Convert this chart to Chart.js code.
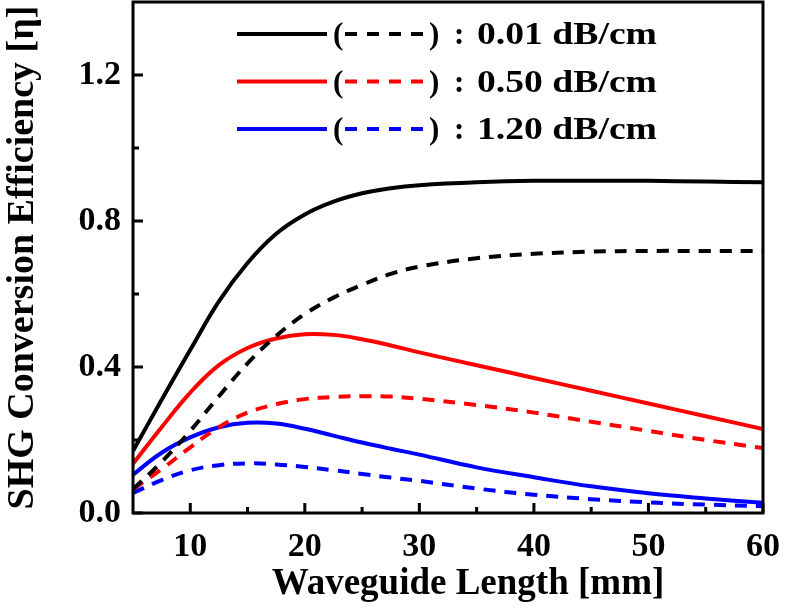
<!DOCTYPE html>
<html>
<head>
<meta charset="utf-8">
<script src="https://cdn.jsdelivr.net/npm/chart.js@4"></script>
<style>
  html, body { margin: 0; padding: 0; background: #fff; }
  #wrap { width: 785px; height: 612px; }
</style>
</head>
<body>
<div id="wrap"><canvas id="shgChart"></canvas></div>
<script>
// waveguide length [mm]
const lengths = [5, 7.5, 10, 12.5, 15, 17.5, 20, 22.5, 25, 27.5, 30, 35, 40, 45, 50, 55, 60];

// conversion efficiency, solid and dashed curve for each loss value
const black001 = [0.17, 0.31, 0.447, 0.58, 0.685, 0.765, 0.818, 0.853, 0.876, 0.89, 0.898, 0.906, 0.91, 0.91, 0.91, 0.908, 0.906];
const black001Dash = [0.065, 0.14, 0.225, 0.32, 0.41, 0.485, 0.545, 0.59, 0.625, 0.655, 0.675, 0.698, 0.71, 0.716, 0.718, 0.718, 0.718];
const red050 = [0.135, 0.235, 0.33, 0.405, 0.452, 0.478, 0.49, 0.488, 0.476, 0.459, 0.44, 0.405, 0.37, 0.335, 0.30, 0.265, 0.23];
const red050Dash = [0.065, 0.12, 0.18, 0.235, 0.275, 0.298, 0.312, 0.318, 0.32, 0.319, 0.313, 0.296, 0.275, 0.25, 0.225, 0.20, 0.178];
const blue120 = [0.105, 0.165, 0.207, 0.235, 0.247, 0.245, 0.231, 0.212, 0.193, 0.176, 0.16, 0.125, 0.098, 0.073, 0.054, 0.04, 0.028];
const blue120Dash = [0.055, 0.09, 0.117, 0.131, 0.136, 0.133, 0.126, 0.117, 0.107, 0.097, 0.088, 0.067, 0.05, 0.038, 0.029, 0.023, 0.019];

const xTicks = [10, 20, 30, 40, 50, 60];
const xMinor = [15, 25, 35, 45, 55];
const yTicks = [0, 0.4, 0.8, 1.2];
const yMinor = [0.2, 0.6, 1.0];
const legendRows = ["0.01 dB/cm", "0.50 dB/cm", "1.20 dB/cm"];
const xTitle = "Waveguide Length [mm]";

const serif = "'Liberation Serif', 'Times New Roman', serif";

function pts(ys) {
    return ys.map((y, i) => ({ x: lengths[i], y: y }));
}

function line(data, color, dashed) {
    return {
        data: pts(data),
        borderColor: color,
        borderWidth: 4,
        borderDash: dashed ? [12, 9] : [],
        pointRadius: 0,
        fill: false,
        tension: 0.4
    };
}

// inward ticks, box frame, x title and the hand-made legend
const framePlugin = {
    id: 'frame',
    afterDatasetsDraw(chart) {
        const c = chart.ctx;
        const a = chart.chartArea;
        const xs = chart.scales.x, ys = chart.scales.y;
        c.save();
        c.strokeStyle = '#000';
        c.lineWidth = 3;
        c.strokeRect(a.left, a.top, a.right - a.left, a.bottom - a.top);

        c.beginPath();
        xTicks.forEach(v => { const p = xs.getPixelForValue(v); c.moveTo(p, a.bottom); c.lineTo(p, a.bottom - 10); });
        xMinor.forEach(v => { const p = xs.getPixelForValue(v); c.moveTo(p, a.bottom); c.lineTo(p, a.bottom - 6); });
        yTicks.forEach(v => { const p = ys.getPixelForValue(v); c.moveTo(a.left, p); c.lineTo(a.left + 10, p); });
        yMinor.forEach(v => { const p = ys.getPixelForValue(v); c.moveTo(a.left, p); c.lineTo(a.left + 6, p); });
        c.stroke();

        c.fillStyle = '#000';
        c.textBaseline = 'middle';
        c.textAlign = 'center';
        c.font = "bold 37px " + serif;
        c.fillText(xTitle, 468, 584);

        // legend: solid (dashed) : loss
        const ds = chart.data.datasets;
        c.textAlign = 'left';
        c.font = "bold 31px " + serif;
        for (let i = 0; i < 3; i++) {
            const y = 34 + i * 47.5;
            const col = ds[i * 2].borderColor;
            c.strokeStyle = col;
            c.lineWidth = 4;
            c.setLineDash([]);
            c.beginPath(); c.moveTo(237, y); c.lineTo(327, y); c.stroke();
            c.setLineDash([12, 10]);
            c.beginPath(); c.moveTo(345, y); c.lineTo(430, y); c.stroke();
            c.setLineDash([]);
            c.fillText("(", 333, y + 2);
            c.fillText(")", 429, y + 2);
            c.fillText(":", 454, y + 2);
            const w = c.measureText(legendRows[i]).width;
            c.save();
            c.translate(477, y + 2);
            c.scale(180 / w, 1);
            c.fillText(legendRows[i], 0, 0);
            c.restore();
        }
        c.restore();
    }
};

new Chart(document.getElementById("shgChart"), {
    type: "line",
    data: {
        datasets: [
            line(black001, '#000000', false),
            line(black001Dash, '#000000', true),
            line(red050, '#ff0000', false),
            line(red050Dash, '#ff0000', true),
            line(blue120, '#0000ff', false),
            line(blue120Dash, '#0000ff', true)
        ]
    },
    options: {
        responsive: true,
        maintainAspectRatio: false,
        animation: false,
        layout: { padding: { top: 2, right: 22, left: 0, bottom: 0 } },
        plugins: { legend: { display: false }, tooltip: { enabled: false } },
        scales: {
            x: {
                type: 'linear',
                min: 5,
                max: 60,
                afterBuildTicks: s => { s.ticks = xTicks.map(v => ({ value: v })); },
                afterFit: s => { s.height = 99; s.paddingLeft = 0; s.paddingRight = 0; },
                grid: { display: false, drawTicks: false },
                border: { display: false },
                ticks: { color: '#000', padding: 14, maxRotation: 0, font: { family: serif, size: 34, weight: 'bold' } },
                title: { display: false }
            },
            y: {
                min: 0,
                max: 1.4,
                afterBuildTicks: s => { s.ticks = yTicks.map(v => ({ value: v })); },
                afterFit: s => { s.width = 133; s.paddingTop = 0; s.paddingBottom = 0; },
                grid: { display: false, drawTicks: false },
                border: { display: false },
                ticks: { color: '#000', padding: 12, callback: v => v.toFixed(1),
                         font: { family: serif, size: 34, weight: 'bold' } },
                title: { display: true, text: 'SHG Conversion Efficiency [η]', color: '#000', padding: { top: 0, bottom: 0 },
                         font: { family: serif, size: 38, weight: 'bold' } }
            }
        }
    },
    plugins: [framePlugin]
});
</script>
</body>
</html>
